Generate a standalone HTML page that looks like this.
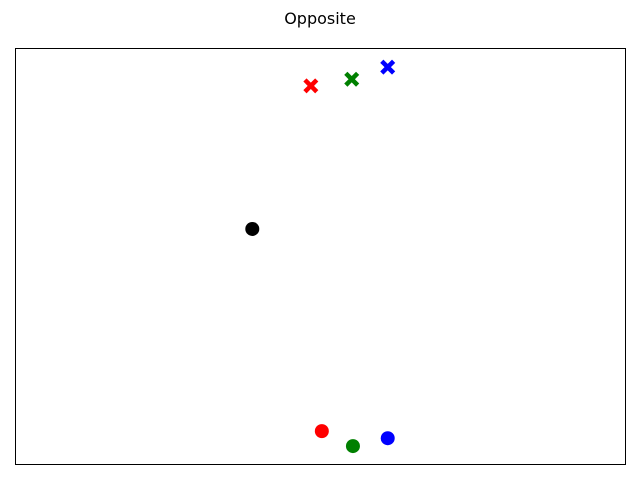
<!DOCTYPE html>
<html><head><meta charset="utf-8"><style>
body{margin:0;background:#fff;}
svg{display:block;font-family:"DejaVu Sans","Liberation Sans",sans-serif;}
</style></head><body>
<svg id="chart" width="640" height="480">
<text x="320" y="24" text-anchor="middle" font-size="16">Opposite</text>
<rect x="15.5" y="48.5" width="610" height="416" fill="none" stroke="#000" stroke-width="1"/>
<g id="marks"></g>
</svg>
<script>
const circleX=[0.389,0.503,0.554,0.611];
const circleY=[0.565,0.079,0.043,0.062];
const circleColors=["black","red","green","blue"];
const crossX=[0.485,0.552,0.611];
const crossY=[0.909,0.925,0.954];
const crossColors=["red","green","blue"];
const L=15,T=48,W=610,H=416;
function sx(v){return L+v*W;}
function sy(v){return T+H-v*H;}
const g=document.getElementById('marks');
const ns='http://www.w3.org/2000/svg';
circleX.forEach((x,i)=>{
  const c=document.createElementNS(ns,'circle');
  c.setAttribute('cx',sx(x));c.setAttribute('cy',sy(circleY[i]));c.setAttribute('r',7);
  c.setAttribute('fill',circleColors[i]);
  
  
  g.appendChild(c);
});
crossX.forEach((x,i)=>{
  const cx=sx(x),cy=sy(crossY[i]),a=3.2,b=7.5;
  const d=`M${cx-b+a} ${cy-b}L${cx} ${cy-a}L${cx+b-a} ${cy-b}L${cx+b} ${cy-b+a}L${cx+a} ${cy}L${cx+b} ${cy+b-a}L${cx+b-a} ${cy+b}L${cx} ${cy+a}L${cx-b+a} ${cy+b}L${cx-b} ${cy+b-a}L${cx-a} ${cy}L${cx-b} ${cy-b+a}Z`;
  const p=document.createElementNS(ns,'path');
  p.setAttribute('d',d);p.setAttribute('fill',crossColors[i]);
  
  
  g.appendChild(p);
});
</script>
</body></html>
